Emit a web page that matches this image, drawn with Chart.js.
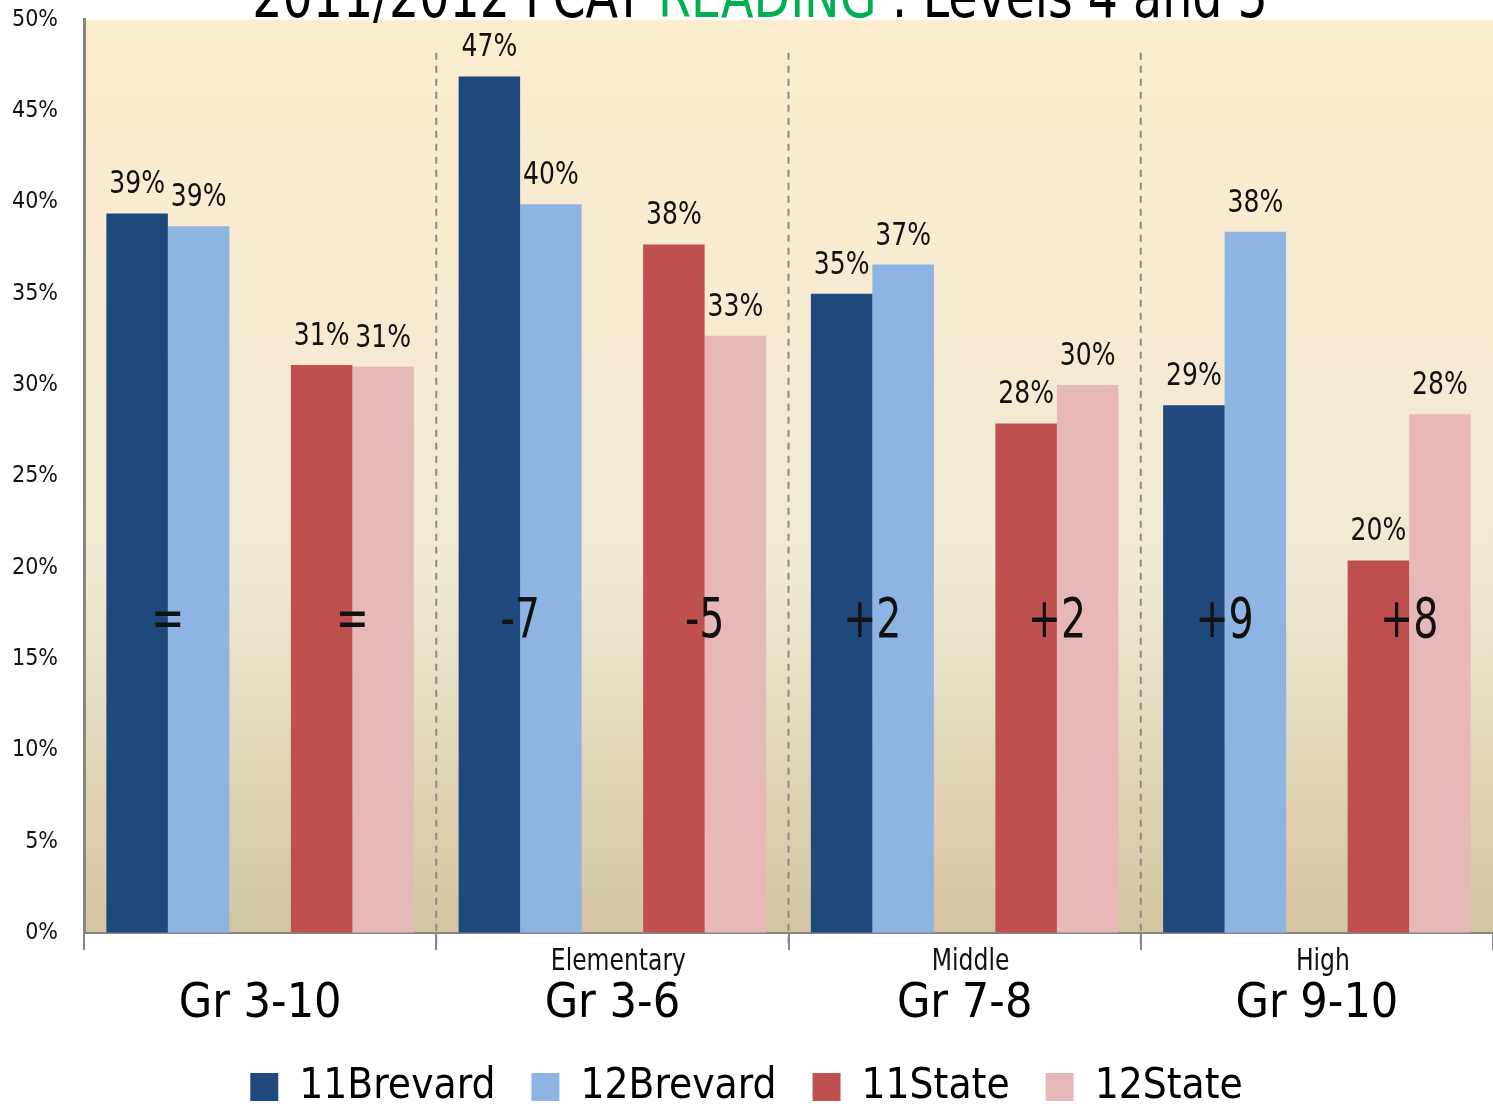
<!DOCTYPE html>
<html>
<head>
<meta charset="utf-8">
<script src="https://cdn.jsdelivr.net/npm/chart.js@4.4.0/dist/chart.umd.min.js"></script>
<style>
  html, body { margin: 0; padding: 0; background: #fff; }
  #wrap { width: 1493px; height: 1107px; }
</style>
</head>
<body>
<div id="wrap"><canvas id="fcatChart" width="1493" height="1107"></canvas></div>
<script>
// dados
const categories = ['Gr 3-10', 'Gr 3-6', 'Gr 7-8', 'Gr 9-10'];
const levels = ['', 'Elementary', 'Middle', 'High'];
const brevard11 = [39.4, 46.9, 35.0, 28.9];
const brevard12 = [38.7, 39.9, 36.6, 38.4];
const state11 = [31.1, 37.7, 27.9, 20.4];
const state12 = [31.0, 32.7, 30.0, 28.4];
const brevardChange = ['=', '-7', '+2', '+9'];
const stateChange = ['=', '-5', '+2', '+8'];
const yTicks = [0, 5, 10, 15, 20, 25, 30, 35, 40, 45, 50];

const FONT = '"DejaVu Sans Condensed", "Liberation Sans", sans-serif';

// texto estreito (fonte condensada não disponível)
function narrowText(ctx, text, x, y, sx) {
  ctx.save();
  ctx.translate(x, y);
  ctx.scale(sx, 1);
  ctx.fillText(text, 0, 0);
  ctx.restore();
}

// fundo em degradê da área do gráfico
const backgroundPlugin = {
  id: 'plotBackground',
  beforeDraw(chart) {
    const { ctx, chartArea } = chart;
    const g = ctx.createLinearGradient(0, chartArea.top, 0, chartArea.bottom);
    g.addColorStop(0, '#fdedcf');
    g.addColorStop(0.6, '#f1e9d3');
    g.addColorStop(1, '#d3c5a0');
    ctx.save();
    ctx.fillStyle = g;
    ctx.fillRect(chartArea.left, chartArea.top, chartArea.right - chartArea.left, chartArea.bottom - chartArea.top);
    ctx.restore();
  }
};

// títulos, linhas tracejadas, rótulos e variações
const annotationsPlugin = {
  id: 'annotations',
  afterDatasetsDraw(chart) {
    const { ctx, chartArea } = chart;
    const x = chart.scales.x;
    const y = chart.scales.y;
    ctx.save();

    // linhas tracejadas entre grupos
    ctx.strokeStyle = '#8a8a8a';
    ctx.lineWidth = 2;
    ctx.setLineDash([7, 6]);
    for (let i = 1; i < categories.length; i++) {
      const bx = (x.getPixelForTick(i - 1) + x.getPixelForTick(i)) / 2;
      ctx.beginPath();
      ctx.moveTo(bx, y.getPixelForValue(48.2));
      ctx.lineTo(bx, chartArea.bottom + 17);
      ctx.stroke();
    }
    ctx.setLineDash([]);

    // rótulos de valor
    ctx.fillStyle = '#111';
    ctx.font = '32px ' + FONT;
    ctx.textAlign = 'center';
    ctx.textBaseline = 'alphabetic';
    chart.data.datasets.forEach((ds, di) => {
      if (!ds.label) return;
      const meta = chart.getDatasetMeta(di);
      meta.data.forEach((bar, i) => {
        const v = ds.data[i];
        if (v == null) return;
        narrowText(ctx, Math.round(v) + '%', bar.x, bar.y - 20, 0.87);
      });
    });

    // variações
    ctx.font = '55px ' + FONT;
    ctx.textBaseline = 'middle';
    const m0 = chart.getDatasetMeta(0), m1 = chart.getDatasetMeta(1);
    const m3 = chart.getDatasetMeta(3), m4 = chart.getDatasetMeta(4);
    const yc = y.getPixelForValue(17);
    categories.forEach((c, i) => {
      narrowText(ctx, brevardChange[i], (m0.data[i].x + m1.data[i].x) / 2, yc, 0.8);
      narrowText(ctx, stateChange[i], (m3.data[i].x + m4.data[i].x) / 2, yc, 0.8);
    });

    // nível escolar acima do rótulo do eixo
    ctx.font = '30px ' + FONT;
    levels.forEach((lv, i) => {
      if (lv) narrowText(ctx, lv, x.getPixelForTick(i) + 6, chartArea.bottom + 29, 0.87);
    });

    // título (cortado no topo)
    ctx.font = '60px ' + FONT;
    ctx.textAlign = 'left';
    ctx.textBaseline = 'alphabetic';
    const sx = 0.88;
    const parts = [['2011/2012 FCAT ', '#000'], ['READING', '#00b050'], [' : Levels 4 and 5', '#000']];
    const total = parts.reduce((s, p) => s + ctx.measureText(p[0]).width * sx, 0);
    let tx = 760 - total / 2;
    parts.forEach(p => {
      ctx.fillStyle = p[1];
      narrowText(ctx, p[0], tx, 17, sx);
      tx += ctx.measureText(p[0]).width * sx;
    });
    ctx.restore();
  }
};

const ctx = document.getElementById('fcatChart');
new Chart(ctx, {
  type: 'bar',
  data: {
    labels: categories,
    datasets: [
      { label: '11Brevard', data: brevard11, backgroundColor: '#1f497d' },
      { label: '12Brevard', data: brevard12, backgroundColor: '#8eb4e3' },
      { label: '', data: [null, null, null, null], backgroundColor: 'rgba(0,0,0,0)' },
      { label: '11State', data: state11, backgroundColor: '#c0504d' },
      { label: '12State', data: state12, backgroundColor: '#e6b9b8' }
    ]
  },
  options: {
    responsive: false,
    animation: false,
    devicePixelRatio: 1,
    categoryPercentage: 0.873,
    barPercentage: 1.0,
    layout: { padding: { top: 0, right: 0, left: 0, bottom: -11 } },
    plugins: {
      legend: {
        position: 'bottom',
        labels: {
          font: { family: FONT, size: 42 },
          color: '#000',
          boxWidth: 28,
          boxHeight: 28,
          padding: 36,
          filter: item => item.text !== ''
        }
      },
      tooltip: { enabled: false },
      title: { display: false }
    },
    scales: {
      x: {
        grid: {
          offset: true,
          drawOnChartArea: false,
          drawTicks: true,
          tickLength: 17,
          color: '#868686',
          lineWidth: 2
        },
        border: { color: '#868686', width: 2 },
        ticks: {
          font: { family: FONT, size: 48 },
          color: '#000',
          padding: 26,
          maxRotation: 0
        },
        afterFit(scale) { scale.height = 97; }
      },
      y: {
        min: 0,
        max: 50,
        afterBuildTicks(scale) { scale.ticks = yTicks.map(v => ({ value: v })); },
        grid: {
          drawOnChartArea: false,
          drawTicks: true,
          tickLength: 20,
          color: 'rgba(0,0,0,0)'
        },
        border: { color: '#868686', width: 3 },
        ticks: {
          font: { family: FONT, size: 23 },
          color: '#111',
          padding: 6,
          callback: v => v + '%'
        },
        afterFit(scale) { scale.width = 84; }
      }
    }
  },
  plugins: [backgroundPlugin, annotationsPlugin]
});
</script>
</body>
</html>
